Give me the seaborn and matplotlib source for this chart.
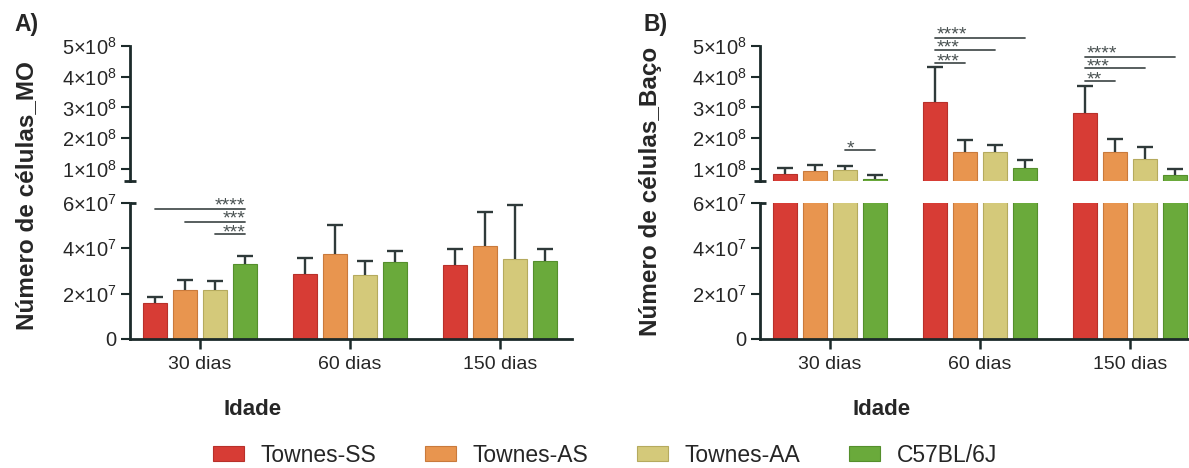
import numpy as np
import pandas as pd
import matplotlib
matplotlib.use("Agg")
import matplotlib.pyplot as plt
import seaborn as sns
from matplotlib.container import BarContainer
from matplotlib.font_manager import FontProperties

# ---------------- data ----------------
ages = ["30 dias", "60 dias", "150 dias"]
groups = ["Townes-SS", "Townes-AS", "Townes-AA", "C57BL/6J"]
colors = ["#d73c35", "#e8954f", "#d4c97a", "#6aaa3b"]
edges = ["#b8302a", "#c97a3c", "#b5aa5e", "#558f2c"]

# Panel A: Número de células_MO (mean, SEM) per group across ages
mo_mean_ss = [1.60e7, 2.88e7, 3.27e7]
mo_mean_as = [2.15e7, 3.74e7, 4.12e7]
mo_mean_aa = [2.18e7, 2.81e7, 3.52e7]
mo_mean_b6 = [3.31e7, 3.40e7, 3.43e7]
mo_err_ss = [0.25e7, 0.68e7, 0.69e7]
mo_err_as = [0.44e7, 1.29e7, 1.50e7]
mo_err_aa = [0.39e7, 0.62e7, 2.41e7]
mo_err_b6 = [0.34e7, 0.47e7, 0.54e7]

# Panel B: Número de células_Baço
ba_mean_ss = [0.815e8, 3.19e8, 2.82e8]
ba_mean_as = [0.91e8, 1.54e8, 1.53e8]
ba_mean_aa = [0.97e8, 1.56e8, 1.33e8]
ba_mean_b6 = [0.675e8, 1.03e8, 0.795e8]
ba_err_ss = [0.195e8, 1.13e8, 0.87e8]
ba_err_as = [0.21e8, 0.40e8, 0.44e8]
ba_err_aa = [0.13e8, 0.20e8, 0.38e8]
ba_err_b6 = [0.12e8, 0.24e8, 0.195e8]

# significance: (age index, group i, group j, label, bracket height)
mo_sig = [(0, 0, 3, "****", 5.73e7), (0, 1, 3, "***", 5.18e7), (0, 2, 3, "***", 4.65e7)]
ba_sig = [(0, 2, 3, "*", 1.60e8),
          (1, 0, 3, "****", 5.25e8), (1, 0, 2, "***", 4.87e8), (1, 0, 1, "***", 4.46e8),
          (2, 0, 3, "****", 4.65e8), (2, 0, 2, "***", 4.27e8), (2, 0, 1, "**", 3.87e8)]

upper_ticks = [1e8, 2e8, 3e8, 4e8, 5e8]
upper_labels = ["1×10$^{8}$", "2×10$^{8}$", "3×10$^{8}$", "4×10$^{8}$", "5×10$^{8}$"]
lower_ticks = [0, 2e7, 4e7, 6e7]
lower_labels = ["0", "2×10$^{7}$", "4×10$^{7}$", "6×10$^{7}$"]

# ---------------- style ----------------
sns.set_style("white")
plt.rcParams["font.family"] = ["Liberation Sans", "DejaVu Sans"]
plt.rcParams["mathtext.fontset"] = "custom"
plt.rcParams["mathtext.rm"] = "Liberation Sans"
plt.rcParams["mathtext.it"] = "Liberation Sans"
plt.rcParams["mathtext.bf"] = "Liberation Sans:bold"

SPC = "#1c2a2a"
TXT = "#262626"
ERRC = "#2f3a3a"
SIGC = "#4a5252"
STAR_FS = 14

UP_LIM = (6e7, 5e8)
LO_LIM = (0, 6e7)

W, H = 1189, 468
fig = plt.figure(figsize=(W / 100, H / 100), dpi=100)
renderer = fig.canvas.get_renderer()


def px_axes(left, top, right, bottom):
    return fig.add_axes([left / W, 1 - bottom / H, (right - left) / W, (bottom - top) / H])


def make_df(means):
    rows = []
    for g, m in zip(groups, means):
        for a, v in zip(ages, m):
            rows.append({"age": a, "group": g, "value": v})
    return pd.DataFrame(rows)


def draw_bars(ax, df, errs, lim):
    sns.barplot(data=df, x="age", y="value", hue="group", order=ages, hue_order=groups,
                palette=colors, errorbar=None, width=0.8, gap=0.2, ax=ax, legend=False,
                linewidth=0.8, saturation=1)
    bar_conts = [c for c in ax.containers if isinstance(c, BarContainer)]
    centers = []
    for gi, cont in enumerate(bar_conts):
        xs, hs = [], []
        for p in cont.patches:
            p.set_edgecolor(edges[gi])
            xs.append(p.get_x() + p.get_width() / 2)
            hs.append(p.get_height())
        centers.append(xs)
        e = np.asarray(errs[gi])
        hs_a = np.asarray(hs)
        keep = (hs_a + e > lim[0]) & (hs_a < lim[1])
        if keep.any():
            xk = np.asarray(xs)[keep]
            hk = hs_a[keep]
            ek = e[keep]
            eb = ax.errorbar(xk, hk, yerr=[np.zeros(len(ek)), ek], fmt="none",
                             ecolor=ERRC, elinewidth=1.7, capsize=5.5, capthick=1.7,
                             zorder=3)
            for cl in eb[1]:
                if np.allclose(cl.get_ydata(), hk):
                    cl.set_visible(False)
    ax.set_xlim(-0.467, 2.48)
    return centers


def style_upper(ax):
    for s in ["top", "right", "bottom"]:
        ax.spines[s].set_visible(False)
    ax.spines["left"].set_linewidth(2.0)
    ax.spines["left"].set_color(SPC)
    ax.set_ylim(*UP_LIM)
    ax.set_yticks(upper_ticks)
    ax.set_yticklabels(upper_labels)
    ax.set_xticks([])
    ax.set_xlabel("")
    ax.set_ylabel("")
    ax.tick_params(axis="y", length=6.5, width=1.5, color=SPC, labelsize=14.5, pad=3,
                   labelcolor=TXT, left=True)
    ax.plot([-0.014, 0.014], [UP_LIM[0], UP_LIM[0]], transform=ax.get_yaxis_transform(),
            color=SPC, lw=2.0, clip_on=False, solid_capstyle="butt")


def style_lower(ax):
    for s in ["top", "right"]:
        ax.spines[s].set_visible(False)
    for s in ["left", "bottom"]:
        ax.spines[s].set_linewidth(2.0)
        ax.spines[s].set_color(SPC)
    ax.set_ylim(*LO_LIM)
    ax.set_yticks(lower_ticks)
    ax.set_yticklabels(lower_labels)
    ax.set_xticks(range(len(ages)))
    ax.set_xticklabels(ages)
    ax.set_ylabel("")
    ax.tick_params(axis="y", length=6.5, width=1.5, color=SPC, labelsize=14.5, pad=3,
                   labelcolor=TXT, left=True)
    ax.tick_params(axis="x", length=7, width=1.8, color=SPC, labelsize=14, pad=5,
                   labelcolor=TXT, bottom=True)
    ax.plot([0, 0.014], [LO_LIM[1], LO_LIM[1]], transform=ax.get_yaxis_transform(),
            color=SPC, lw=2.0, clip_on=False, solid_capstyle="butt")


def draw_sig(ax, centers, sigs, align):
    # brackets
    for ai, gi, gj, lab, y in sigs:
        x0, x1 = centers[gi][ai], centers[gj][ai]
        ax.plot([x0, x1], [y, y], color=SIGC, lw=1.3, clip_on=False, zorder=4)
    # stars: one stacked text per age cluster, last line anchored on lowest bracket
    fp = FontProperties(family=["Liberation Sans", "DejaVu Sans"], size=STAR_FS)
    _, lp_h, _ = renderer.get_text_width_height_descent("lp", fp, ismath=False)
    for ai in sorted(set(s[0] for s in sigs)):
        cl = sorted([s for s in sigs if s[0] == ai], key=lambda s: -s[4])
        labs = "\n".join(s[3] for s in cl)
        if len(cl) > 1:
            py = [ax.transData.transform((0, s[4]))[1] for s in cl]
            step = (py[0] - py[-1]) / (len(cl) - 1)
            ls = step / lp_h
        else:
            ls = 1.2
        base_y = cl[-1][4]
        if align == "right":
            xa = centers[cl[0][2]][ai]
            ax.annotate(labs, (xa, base_y), xytext=(0, -2.6), textcoords="offset points",
                        ha="right", va="baseline", multialignment="right",
                        fontsize=STAR_FS, color=SIGC, linespacing=ls,
                        annotation_clip=False)
        else:
            xa = centers[cl[0][1]][ai]
            ax.annotate(labs, (xa, base_y), xytext=(1, -2.6), textcoords="offset points",
                        ha="left", va="baseline", multialignment="left",
                        fontsize=STAR_FS, color=SIGC, linespacing=ls,
                        annotation_clip=False)


# ---------------- Panel A ----------------
axA_up = px_axes(130, 46, 572, 181)
axA_lo = px_axes(130, 203, 572, 339)
mo_means = [mo_mean_ss, mo_mean_as, mo_mean_aa, mo_mean_b6]
mo_errs = [mo_err_ss, mo_err_as, mo_err_aa, mo_err_b6]
dfA = make_df(mo_means)
draw_bars(axA_up, dfA, mo_errs, UP_LIM)
cA = draw_bars(axA_lo, dfA, mo_errs, LO_LIM)
style_upper(axA_up)
style_lower(axA_lo)
draw_sig(axA_lo, cA, mo_sig, "right")
axA_lo.set_xlabel("Idade", fontsize=16, fontweight="bold", color=TXT)
axA_lo.xaxis.set_label_coords((253 - 130) / 442, -0.44)

# ---------------- Panel B ----------------
axB_up = px_axes(760, 46, 1202, 181)
axB_lo = px_axes(760, 203, 1202, 339)
ba_means = [ba_mean_ss, ba_mean_as, ba_mean_aa, ba_mean_b6]
ba_errs = [ba_err_ss, ba_err_as, ba_err_aa, ba_err_b6]
dfB = make_df(ba_means)
cB = draw_bars(axB_up, dfB, ba_errs, UP_LIM)
draw_bars(axB_lo, dfB, ba_errs, LO_LIM)
style_upper(axB_up)
style_lower(axB_lo)
draw_sig(axB_up, cB, ba_sig, "left")
axB_lo.set_xlabel("Idade", fontsize=16, fontweight="bold", color=TXT)
axB_lo.xaxis.set_label_coords((882 - 760) / 442, -0.44)

# ---------------- labels ----------------
fig.text(27 / W, 1 - 196 / H, "Número de células_MO", rotation=90, fontsize=17.5,
         fontweight="bold", ha="center", va="center", color=TXT)
fig.text(650 / W, 1 - 191 / H, "Número de células_Baço", rotation=90, fontsize=17.5,
         fontweight="bold", ha="center", va="center", color=TXT)
fig.text(14 / W, 1 - 25 / H, "A)", fontsize=16.5, fontweight="bold", ha="left",
         va="center", color=TXT)
fig.text(644 / W, 1 - 25 / H, "B)", fontsize=16.5, fontweight="bold", ha="left",
         va="center", color=TXT)

# ---------------- legend ----------------
handles = [matplotlib.patches.Patch(facecolor=c, edgecolor=e, linewidth=0.8)
           for c, e in zip(colors, edges)]
fig.legend(handles, groups, loc="center", bbox_to_anchor=(605 / W, 1 - 455 / H),
           ncol=4, frameon=False, fontsize=16.5, handlelength=1.35, handleheight=0.6,
           handletextpad=0.75, columnspacing=2.1, labelcolor=TXT, borderpad=0.2)

fig.savefig("out.png", dpi=100)
